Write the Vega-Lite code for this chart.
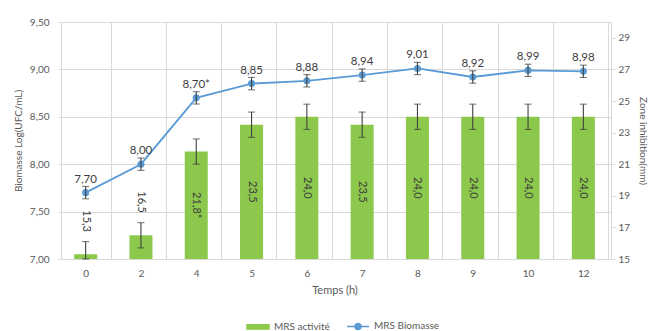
{
  "$schema": "https://vega.github.io/schema/vega-lite/v6.json",
  "width": 553,
  "height": 237,
  "autosize": "none",
  "padding": {"left": 58, "top": 22, "right": 52, "bottom": 72},
  "config": {
    "font": "Lato",
    "view": {"stroke": null},
    "axis": {"labelFont": "Lato", "titleFont": "Lato", "labelColor": "#595959", "titleColor": "#595959", "labelFontSize": 10, "titleFontSize": 10, "titleFontWeight": "normal"},
    "legend": {"labelFont": "Lato", "labelFontSize": 10, "labelColor": "#595959"}
  },
  "data": {
    "values": [
      {"t": "0", "a": 15.3, "ae": 0.8, "al": "15,3", "b": 7.70, "be": 0.065, "bl": "7,70"},
      {"t": "2", "a": 16.5, "ae": 0.8, "al": "16,5", "b": 8.00, "be": 0.065, "bl": "8,00"},
      {"t": "4", "a": 21.8, "ae": 0.8, "al": "21,8*", "b": 8.70, "be": 0.065, "bl": "8,70*"},
      {"t": "5", "a": 23.5, "ae": 0.8, "al": "23,5", "b": 8.85, "be": 0.065, "bl": "8,85"},
      {"t": "6", "a": 24.0, "ae": 0.8, "al": "24,0", "b": 8.88, "be": 0.065, "bl": "8,88"},
      {"t": "7", "a": 23.5, "ae": 0.8, "al": "23,5", "b": 8.94, "be": 0.065, "bl": "8,94"},
      {"t": "8", "a": 24.0, "ae": 0.8, "al": "24,0", "b": 9.01, "be": 0.065, "bl": "9,01"},
      {"t": "9", "a": 24.0, "ae": 0.8, "al": "24,0", "b": 8.92, "be": 0.065, "bl": "8,92"},
      {"t": "10", "a": 24.0, "ae": 0.8, "al": "24,0", "b": 8.99, "be": 0.065, "bl": "8,99"},
      {"t": "12", "a": 24.0, "ae": 0.8, "al": "24,0", "b": 8.98, "be": 0.065, "bl": "8,98"}
    ]
  },
  "encoding": {
    "x": {
      "field": "t", "type": "ordinal", "sort": null,
      "axis": {"title": "Temps (h)", "labelAngle": 0, "tickBand": "extent", "grid": true, "gridColor": "#d9d9d9", "ticks": false, "domainColor": "#d9d9d9", "labelPadding": 9, "titlePadding": 6, "titleFontSize": 11}
    }
  },
  "layer": [
    {
      "encoding": {
        "y": {
          "field": "a", "type": "quantitative",
          "scale": {"domain": [15, 30], "nice": false, "zero": false, "clamp": true},
          "axis": {"orient": "right", "title": "Zone inhibition(mm)", "values": [15, 17, 19, 21, 23, 25, 27, 29], "grid": false, "domainColor": "#d9d9d9", "tickColor": "#d9d9d9", "tickSize": 4, "labelPadding": 3, "titlePadding": 8}
        }
      },
      "layer": [
        {
          "mark": {"type": "bar", "width": 23},
          "encoding": {
            "color": {"datum": "MRS activité", "type": "nominal",
              "scale": {"domain": ["MRS activité", "MRS Biomasse"], "range": ["#8CC84B", "#5B9BD5"]},
              "legend": {
                "title": null, "orient": "none", "legendX": 188, "legendY": 292, "direction": "horizontal", "symbolSize": 484, "columnPadding": 14,
                "encode": {"symbols": {"update": {
                  "shape": {"signal": "datum.value == 'MRS activité' ? 'M-1,-0.2H1V0.2H-1Z' : 'M-1,0H1M0.28,0A0.28,0.28,0,1,1,-0.28,0A0.28,0.28,0,1,1,0.28,0'"},
                  "fill": {"signal": "datum.value == 'MRS activité' ? '#8CC84B' : '#5B9BD5'"},
                  "stroke": {"signal": "datum.value == 'MRS activité' ? '#8CC84B' : '#5B9BD5'"},
                  "strokeWidth": {"value": 1.5},
                  "fillOpacity": {"value": 1}
                }}}
              }
            }
          }
        },
        {
          "mark": {"type": "errorbar", "ticks": {"size": 7}, "color": "#404040", "thickness": 1.1},
          "encoding": {"yError": {"field": "ae"}}
        },
        {
          "transform": [{"calculate": "datum.a < 18 ? datum.a + 2.1 : (15 + datum.a) / 2", "as": "ly"}],
          "mark": {"type": "text", "angle": 90, "align": "center", "baseline": "middle", "fontSize": 11, "color": "#404040"},
          "encoding": {
            "y": {"field": "ly", "type": "quantitative", "title": "Zone inhibition(mm)"},
            "text": {"field": "al"}
          }
        }
      ]
    },
    {
      "encoding": {
        "y": {
          "field": "b", "type": "quantitative",
          "scale": {"domain": [7, 9.5], "nice": false, "zero": false},
          "axis": {"orient": "left", "title": "Biomasse Log(UFC/mL)", "values": [7, 7.5, 8, 8.5, 9, 9.5], "labelExpr": "replace(format(datum.value, '.2f'), '.', ',')", "grid": true, "gridColor": "#d9d9d9", "domain": false, "ticks": false, "labelPadding": 9, "titlePadding": 6}
        }
      },
      "layer": [
        {
          "mark": {"type": "line", "strokeWidth": 1.8, "point": {"filled": true, "size": 50}},
          "encoding": {"color": {"datum": "MRS Biomasse", "type": "nominal"}}
        },
        {
          "mark": {"type": "errorbar", "ticks": {"size": 7}, "color": "#404040", "thickness": 1.1},
          "encoding": {"yError": {"field": "be"}}
        },
        {
          "mark": {"type": "text", "dy": -13, "fontSize": 11.5, "color": "#404040"},
          "encoding": {"text": {"field": "bl"}}
        }
      ]
    }
  ],
  "resolve": {"scale": {"y": "independent"}}
}
